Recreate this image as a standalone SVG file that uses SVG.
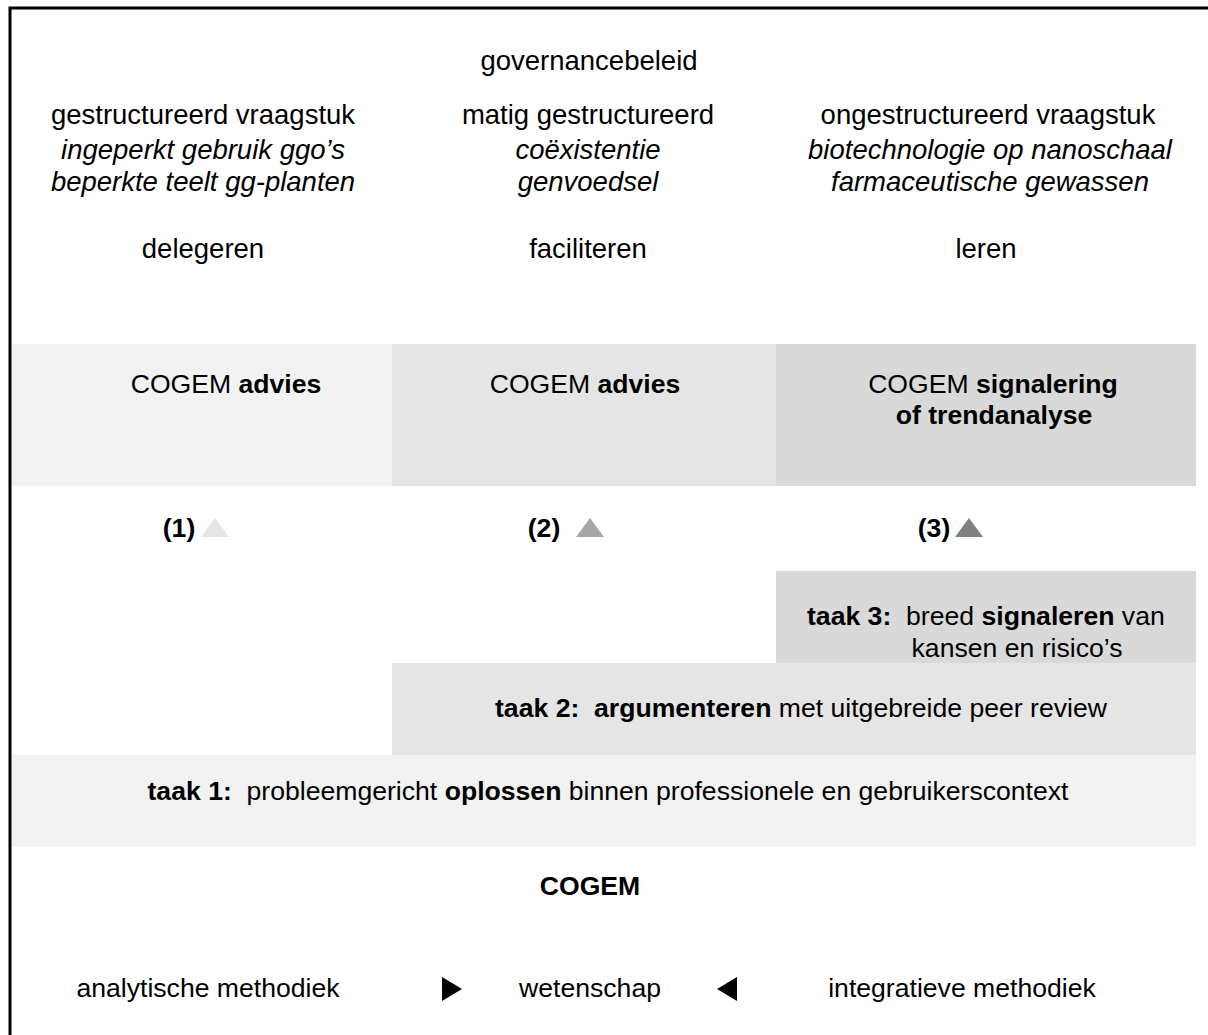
<svg xmlns="http://www.w3.org/2000/svg" width="1208" height="1035" viewBox="0 0 1208 1035">
<style>
text{font-family:"Liberation Sans",Arial,sans-serif;font-size:26.6px;fill:#000;text-anchor:middle}
.t{font-size:27.5px}
.i{font-style:italic}
.b{font-weight:bold}
.l{text-anchor:start}
</style>
<rect width="1208" height="1035" fill="#fff"/>
<g id="frame"><path d="M10 1035 V8 H1208" fill="none" stroke="#000" stroke-width="3"/></g>
<g id="header">
<text x="589" y="70" class="t">governancebeleid</text>
</g>
<g id="col1">
<text x="203" y="124" class="t">gestructureerd vraagstuk</text>
<text x="203" y="159" class="i t">ingeperkt gebruik ggo’s</text>
<text x="203" y="191" class="i t">beperkte teelt gg-planten</text>
<text x="203" y="258" class="t">delegeren</text>
</g>
<g id="col2">
<text x="588" y="124" class="t">matig gestructureerd</text>
<text x="588" y="159" class="i t">coëxistentie</text>
<text x="588" y="191" class="i t">genvoedsel</text>
<text x="588" y="258" class="t">faciliteren</text>
</g>
<g id="col3">
<text x="988" y="124" class="t">ongestructureerd vraagstuk</text>
<text x="990" y="159" class="i t">biotechnologie op nanoschaal</text>
<text x="990" y="191" class="i t">farmaceutische gewassen</text>
<text x="986" y="258" class="t">leren</text>
</g>
<g id="advies1"><rect x="12" y="344" width="380" height="142" fill="#f2f2f2"/>
<text x="226" y="393">COGEM <tspan class="b">advies</tspan></text></g>
<g id="advies2"><rect x="392" y="344" width="384" height="142" fill="#e5e5e5"/>
<text x="585" y="393">COGEM <tspan class="b">advies</tspan></text></g>
<g id="signalering"><rect x="776" y="344" width="420" height="142" fill="#d9d9d9"/>
<text x="993" y="393">COGEM <tspan class="b">signalering</tspan></text>
<text x="994" y="424" class="b">of trendanalyse</text></g>
<g id="mark1"><text x="179" y="537" class="b">(1)</text><polygon points="201,537 229,537 215,518" fill="#e5e5e5"/></g>
<g id="mark2"><text x="544" y="537" class="b">(2)</text><polygon points="576,537 604,537 590,518" fill="#a6a6a6"/></g>
<g id="mark3"><text x="934" y="537" class="b">(3)</text><polygon points="955,537 983,537 969,518" fill="#808080"/></g>
<g id="taak3"><rect x="776" y="571" width="420" height="92" fill="#d9d9d9"/>
<text x="807" y="625" class="l"><tspan class="b">taak 3:</tspan>&#160; breed <tspan class="b">signaleren</tspan> van</text>
<text x="1017" y="657">kansen en risico’s</text></g>
<g id="taak2"><rect x="392" y="663" width="804" height="92" fill="#e5e5e5"/>
<text x="801" y="717"><tspan class="b">taak 2:&#160; argumenteren</tspan> met uitgebreide peer review</text></g>
<g id="taak1"><rect x="12" y="755" width="1184" height="92" fill="#f2f2f2"/>
<text x="608" y="800"><tspan class="b">taak 1:</tspan>&#160; probleemgericht <tspan class="b">oplossen</tspan> binnen professionele en gebruikerscontext</text></g>
<g id="cogem"><text x="590" y="895" class="b">COGEM</text></g>
<g id="bottom">
<text x="208" y="997">analytische methodiek</text>
<text x="590" y="997">wetenschap</text>
<text x="962" y="997">integratieve methodiek</text>
</g>
<g id="connectors">
<polygon points="442,977 442,1001 462,989" fill="#000"/>
<polygon points="737,977 737,1001 717,989" fill="#000"/>
</g>
</svg>
